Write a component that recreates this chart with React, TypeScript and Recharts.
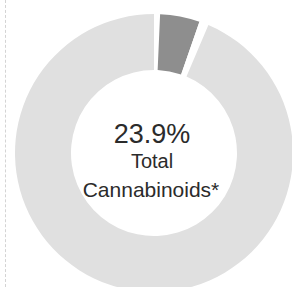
import { PieChart, Pie, Cell } from 'recharts'

// ring slices, clockwise from 12 o'clock
const sliceNames = ['gapLeft', 'Cannabinoids', 'gapRight', 'Rest']
const sliceValues = [0.7, 4.6, 1.1, 93.6]
const sliceColors = ['#ffffff', '#8e8e8e', '#ffffff', '#e0e0e0']

const centerValue = '23.9%'
const centerLines = ['Total', 'Cannabinoids*']

const data = sliceNames.map((name, i) => ({ name, value: sliceValues[i] }))

const CX = 149
const CY = 148

export default function App() {
  return (
    <div style={{ position: 'relative', width: 292, height: 287, background: '#fff', overflow: 'hidden' }}>
      <style>{'body{margin:0}'}</style>
      <div
        style={{
          position: 'absolute',
          left: 5,
          top: 0,
          height: 287,
          borderLeft: '1px dashed #d4d4d4',
        }}
      />
      <PieChart width={292} height={287}>
        <Pie
          data={data}
          dataKey="value"
          cx={CX}
          cy={CY}
          innerRadius={83}
          outerRadius={139}
          startAngle={90}
          endAngle={-270}
          stroke="none"
          isAnimationActive={false}
        >
          {data.map((d, i) => (
            <Cell key={d.name} fill={sliceColors[i]} />
          ))}
        </Pie>
      </PieChart>
      <svg
        width={292}
        height={287}
        style={{ position: 'absolute', left: 0, top: 0, pointerEvents: 'none' }}
        fontFamily="Arial, 'Liberation Sans', sans-serif"
        fill="#2b2b2b"
        textAnchor="middle"
      >
        <text x={152} y={143} fontSize={27}>
          {centerValue}
        </text>
        <text x={152} y={168} fontSize={20}>
          {centerLines[0]}
        </text>
        <text x={151} y={197} fontSize={21}>
          {centerLines[1]}
        </text>
      </svg>
    </div>
  )
}
